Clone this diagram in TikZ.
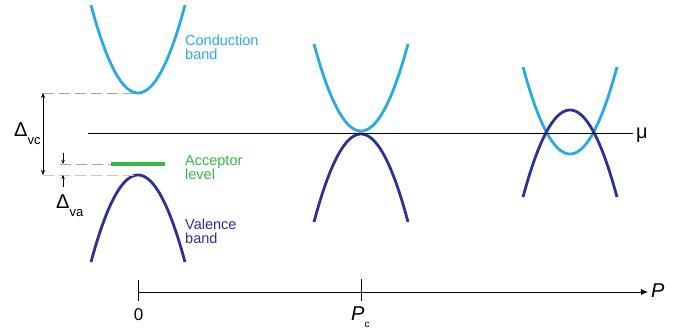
\documentclass[tikz,border=0pt]{standalone}
\usepackage{fontspec}
\setmainfont{Liberation Sans}
\usetikzlibrary{arrows.meta}
\definecolor{cband}{RGB}{41,171,226}
\definecolor{vband}{RGB}{46,49,146}
\definecolor{alevel}{RGB}{57,181,74}
\begin{document}
\begin{tikzpicture}[x=1pt,y=-1pt,
  cb/.style={draw=cband,line width=2.8pt},
  vb/.style={draw=vband,line width=2.8pt},
  guide/.style={draw=gray!70,line width=0.8pt,dash pattern=on 11pt off 5pt},
  dimarrow/.style={line width=0.7pt,-{Stealth[length=5pt,width=4pt]}},
  lbl/.style={font=\fontsize{14.5}{14.5}\selectfont,anchor=base west,inner sep=0pt},
  big/.style={font=\fontsize{20}{20}\selectfont,inner sep=0pt,anchor=base west}]
\useasboundingbox (0,0) rectangle (682,331);
% bands, panel 1
\draw[cb] plot[domain=-47:47,samples=60] ({138+\x},{93-0.0398*\x*\x});
\draw[vb] plot[domain=-47:47,samples=60] ({138+\x},{175+0.0394*\x*\x});
% panel 2
\draw[cb] plot[domain=-47:47,samples=60] ({361+\x},{131-0.0394*\x*\x});
\draw[vb] plot[domain=-47:47,samples=60] ({361+\x},{134+0.0398*\x*\x});
% panel 3
\draw[cb] plot[domain=-47:47,samples=60] ({570+\x},{154-0.0394*\x*\x});
\draw[vb] plot[domain=-47:47,samples=60] ({570+\x},{110+0.0394*\x*\x});
% chemical potential
\coordinate (muL) at (88,133);
\coordinate (muR) at (633,133);
\draw[line width=0.8pt] (muL) -- (muR);
\node[big] (mu) at (636,139) {μ};
% acceptor level
\coordinate (accL) at (111,164);
\coordinate (accR) at (165,164);
\draw[draw=alevel,line width=4pt] (accL) -- (accR);
% guides
\coordinate (cbmin) at (138,93);
\coordinate (vbmax) at (138,175);
\coordinate (gTop) at (43,93);
\coordinate (gBot) at (43,175);
\coordinate (gAcc) at (60,164);
\draw[guide] (gTop) -- (cbmin);
\draw[guide,draw=gray!45] (gBot) -- (vbmax);
\draw[guide] (gAcc) -- (accL);
% dimension arrows
\draw[line width=0.7pt,{Stealth[length=5pt,width=4pt]}-{Stealth[length=5pt,width=4pt]}] (gTop) -- (gBot);
\coordinate (aDs) at (63,153);
\coordinate (aDe) at (63,164);
\coordinate (aUs) at (63,187);
\coordinate (aUe) at (63,175);
\draw[dimarrow,-{Stealth[length=4pt,width=3.5pt]}] (aDs) -- (aDe);
\draw[dimarrow,-{Stealth[length=4pt,width=3.5pt]}] (aUs) -- (aUe);
\node[big] (dvc) at (14,137) {Δ\raisebox{-8pt}{\fontsize{13}{13}\selectfont vc}};
\node[big] (dva) at (56,208) {Δ\raisebox{-8pt}{\fontsize{13}{13}\selectfont va}};
% labels
\node[lbl,text=cband] (cbl1) at (185,46) {Conduction};
\node[lbl,text=cband] (cbl2) at (185,59.5) {band};
\node[lbl,text=alevel] (all1) at (185,166) {Acceptor};
\node[lbl,text=alevel] (all2) at (185,179.5) {level};
\node[lbl,text=vband] (vbl1) at (185,229.5) {Valence};
\node[lbl,text=vband] (vbl2) at (185,243) {band};
% pressure axis
\coordinate (ax0) at (138,292);
\coordinate (axc) at (361,292);
\coordinate (axE) at (648,292);
\coordinate (t0a) at (138,280);
\coordinate (t0b) at (138,301);
\coordinate (tca) at (361,279);
\coordinate (tcb) at (361,301);
\draw[line width=0.8pt,-{Latex[length=7pt,width=6pt]}] (ax0) -- (axE);
\draw[line width=0.8pt] (t0a) -- (t0b);
\draw[line width=0.8pt] (tca) -- (tcb);
\node[big,font=\fontsize{20}{20}\selectfont\itshape] (P) at (651,297) {P};
\node[inner sep=0pt,anchor=base,font=\fontsize{17}{17}\selectfont] (zero) at (138.5,320) {0};
\node[inner sep=0pt,anchor=base west,font=\fontsize{20}{20}\selectfont] (Pc) at (351,320) {\textit{P}\raisebox{-7pt}{\fontsize{10}{10}\selectfont c}};
\end{tikzpicture}
\end{document}
